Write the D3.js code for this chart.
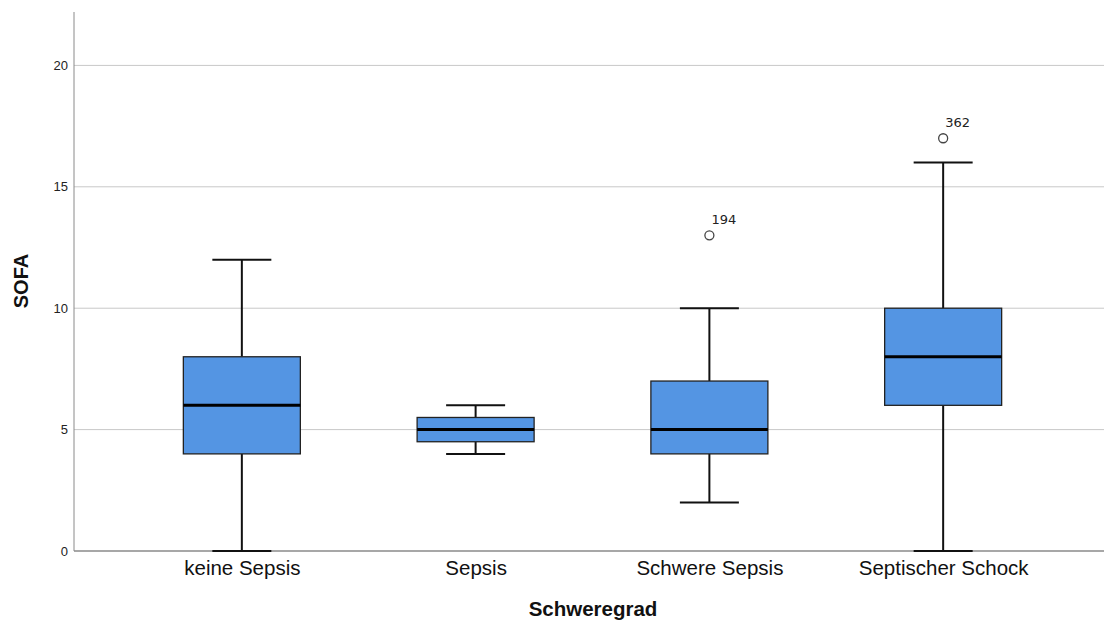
<!DOCTYPE html>
<html><head><meta charset="utf-8">
<script src="https://cdn.jsdelivr.net/npm/d3@7"></script>
<style>body{margin:0;background:#fff}</style>
</head><body>
<svg id="c" width="1104" height="621"></svg>
<script>
const categories = ["keine Sepsis","Sepsis","Schwere Sepsis","Septischer Schock"];
const whiskerLow = [0, 4, 2, 0];
const q1 = [4, 4.5, 4, 6];
const median = [6, 5, 5, 8];
const q3 = [8, 5.5, 7, 10];
const whiskerHigh = [12, 6, 10, 16];
const outliers = [
  {cat: "Schwere Sepsis", value: 13, label: "194"},
  {cat: "Septischer Schock", value: 17, label: "362"}
];
const yTicks = [0,5,10,15,20];

(function(){
const svg = d3.select("#c");
const mLeft = 74, mRight = 1104, mTop = 12, mBottom = 551;
const y = d3.scaleLinear().domain([0, 22.2]).range([mBottom, mTop]);
const x = d3.scalePoint().domain(categories).range([mLeft, 1111]).padding(0.718);
const boxW = 117, capW = 59;

// gridlines
svg.append("g").selectAll("line").data(yTicks.filter(d=>d>0)).join("line")
  .attr("x1", mLeft).attr("x2", mRight).attr("y1", d=>y(d)).attr("y2", d=>y(d))
  .attr("stroke", "#c8c8c8").attr("stroke-width", 1);

// y axis
const yAxis = svg.append("g").attr("transform", `translate(${mLeft},0)`)
  .call(d3.axisLeft(y).tickValues(yTicks).tickSize(0).tickPadding(6));
yAxis.select(".domain").attr("stroke", "#8a8a8a").attr("d", `M0,${mBottom}V${mTop}`);
yAxis.selectAll("text").attr("font-family", "Liberation Sans, Arial, sans-serif").attr("font-size", 13).attr("fill", "#222");

// x axis
const xAxis = svg.append("g").attr("transform", `translate(0,${mBottom})`)
  .call(d3.axisBottom(x).tickSize(0));
xAxis.select(".domain").attr("d", `M${mLeft},0H${mRight}`).attr("stroke", "#8a8a8a").attr("stroke-width", 1.5);
xAxis.selectAll("text").attr("y", 24).attr("dy", 0)
  .attr("font-family", "Liberation Sans, Arial, sans-serif").attr("font-size", 20.5).attr("fill", "#111");

const data = categories.map((c,i)=>({c, lo: whiskerLow[i], q1: q1[i], med: median[i], q3: q3[i], hi: whiskerHigh[i]}));
const g = svg.append("g");
const boxes = g.selectAll("g.box").data(data).join("g").attr("class","box");
boxes.append("line").attr("x1", d=>x(d.c)).attr("x2", d=>x(d.c)).attr("y1", d=>y(d.hi)).attr("y2", d=>y(d.q3)).attr("stroke","#111").attr("stroke-width",2);
boxes.append("line").attr("x1", d=>x(d.c)).attr("x2", d=>x(d.c)).attr("y1", d=>y(d.q1)).attr("y2", d=>y(d.lo)).attr("stroke","#111").attr("stroke-width",2);
boxes.append("line").attr("x1", d=>x(d.c)-capW/2).attr("x2", d=>x(d.c)+capW/2).attr("y1", d=>y(d.hi)).attr("y2", d=>y(d.hi)).attr("stroke","#111").attr("stroke-width",2);
boxes.append("line").attr("x1", d=>x(d.c)-capW/2).attr("x2", d=>x(d.c)+capW/2).attr("y1", d=>y(d.lo)).attr("y2", d=>y(d.lo)).attr("stroke","#111").attr("stroke-width",2);
boxes.append("rect").attr("x", d=>x(d.c)-boxW/2).attr("width", boxW)
  .attr("y", d=>y(d.q3)).attr("height", d=>y(d.q1)-y(d.q3))
  .attr("fill","#5495e3").attr("stroke","#222").attr("stroke-width",1.3);
boxes.append("line").attr("x1", d=>x(d.c)-boxW/2).attr("x2", d=>x(d.c)+boxW/2).attr("y1", d=>y(d.med)).attr("y2", d=>y(d.med)).attr("stroke","#000").attr("stroke-width",3);

const og = svg.append("g").selectAll("g").data(outliers).join("g");
og.append("circle").attr("cx", d=>x(d.cat)).attr("cy", d=>y(d.value)).attr("r",4.5)
  .attr("fill","#fff").attr("stroke","#444").attr("stroke-width",1.3);
og.append("text").attr("x", d=>x(d.cat)+2).attr("y", d=>y(d.value)-11)
  .attr("font-family","DejaVu Sans, sans-serif").attr("font-size",13).attr("fill","#222").text(d=>d.label);

svg.append("text").attr("x", 593).attr("y", 616).attr("text-anchor","middle")
  .attr("font-family","Liberation Sans, Arial, sans-serif").attr("font-weight","bold").attr("font-size",20.5).attr("fill","#111").text("Schweregrad");
svg.append("text").attr("transform","translate(28,281) rotate(-90)").attr("text-anchor","middle")
  .attr("font-family","Liberation Sans, Arial, sans-serif").attr("font-weight","bold").attr("font-size",20).attr("fill","#111").text("SOFA");
})();
</script>
</body></html>
